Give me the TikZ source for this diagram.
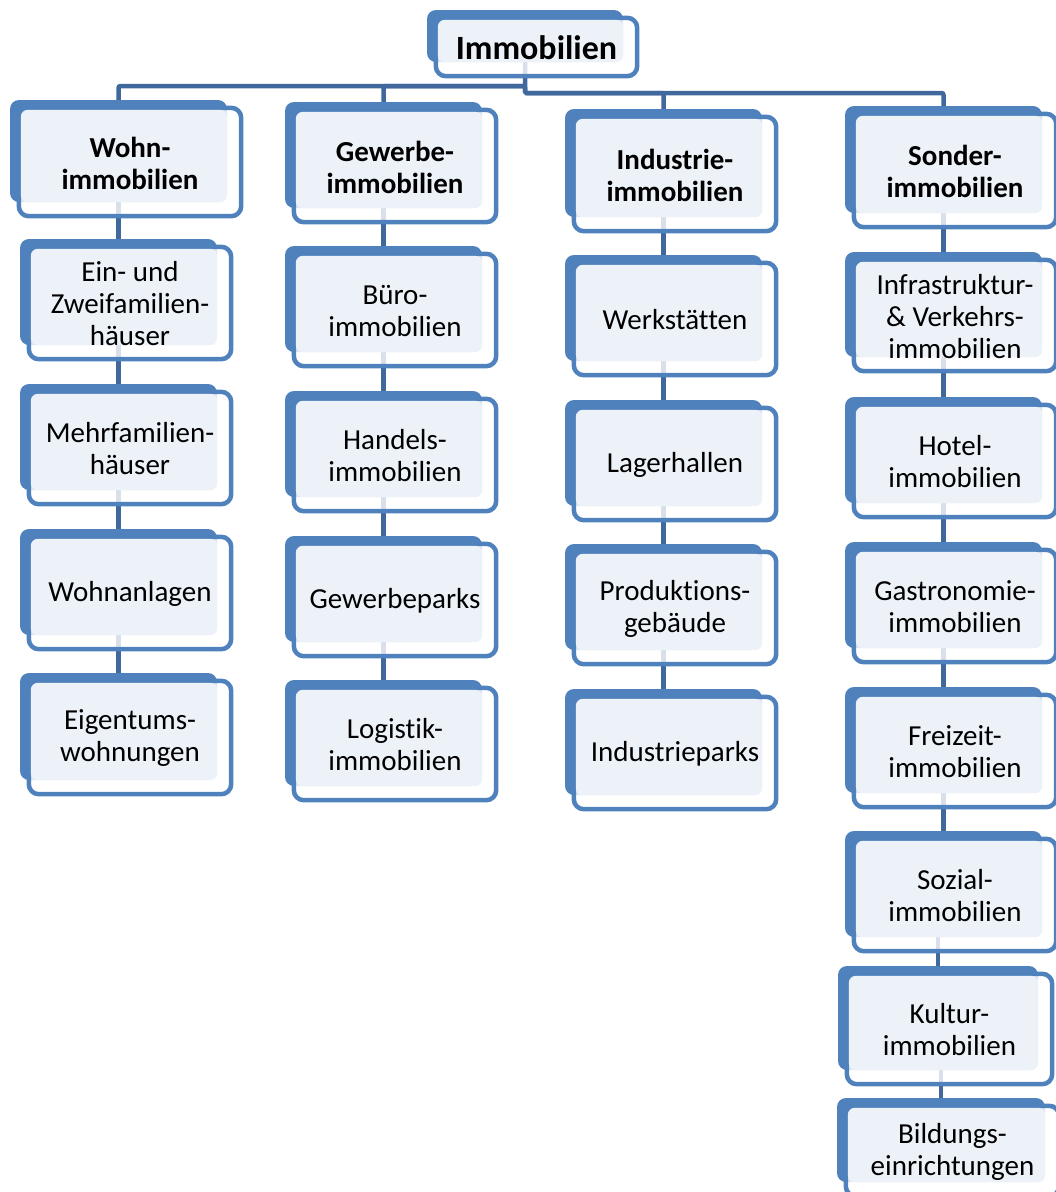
\documentclass[tikz,border=0pt]{standalone}
\usepackage{fontspec}
\setmainfont[Ligatures={NoCommon}]{Carlito}
\definecolor{accent}{HTML}{4F81BD}
\definecolor{conn}{HTML}{41689C}
\definecolor{lightfill}{HTML}{EDF2F9}
\tikzset{
  backbox/.style={rectangle, rounded corners=9pt, fill=accent, draw=none, inner sep=0pt},
  frontstyle/.style={draw=accent, line width=4.5pt, fill=white, fill opacity=0.8, rounded corners=10pt},
  lightstyle/.style={fill=lightfill, rounded corners=7pt},
  txt/.style={align=center, inner sep=0pt, font=\fontsize{29}{32}\selectfont},
  hdr/.style={align=center, inner sep=0pt, font=\fontsize{29}{32}\selectfont\bfseries},
  toptxt/.style={align=center, inner sep=0pt, font=\fontsize{34}{38}\selectfont\bfseries},
  link/.style={draw=conn, line width=4.5pt},
}
\newcommand\backnode[5]{%
  \node[backbox, minimum width={#4-#2}, minimum height={#5-#3}] (#1) at ({(#2+#4)/2},{(#3+#5)/2}) {};}
\newcommand\frontbox[3]{%
  \draw[frontstyle] ([shift={(9,8)}]#1.north west) rectangle ([shift={(14,14)}]#1.south east);
  \fill[lightstyle] ([shift={(11,10)}]#1.north west) rectangle (#1.south east);
  \node[#2] (#1-t) at ([shift={(11.5,12)}]#1.center) {#3};}
\begin{document}
\begin{tikzpicture}[x=1pt,y=-1pt]
\useasboundingbox (0,0) rectangle (1056,1192);
\clip (0,0) rectangle (1056,1192);
% back boxes
\backnode{immo}{427}{10}{623}{62}
\backnode{wohn}{10}{100}{227}{202}
\backnode{ein}{20}{239}{217}{345}
\backnode{mehr}{20}{384}{217}{490}
\backnode{anl}{20}{529}{217}{635}
\backnode{eig}{20}{673}{217}{780}
\backnode{gew}{285}{102}{482}{208}
\backnode{buero}{285}{246}{482}{352}
\backnode{handel}{285}{391}{482}{497}
\backnode{gpark}{285}{536}{482}{642}
\backnode{logi}{285}{680}{482}{786}
\backnode{ind}{565}{109}{762}{217}
\backnode{werk}{565}{255}{762}{361}
\backnode{lager}{565}{400}{762}{506}
\backnode{prod}{565}{544}{762}{650}
\backnode{ipark}{565}{689}{762}{795}
\backnode{son}{845}{106}{1042}{213}
\backnode{infra}{845}{252}{1042}{357}
\backnode{hotel}{845}{397}{1042}{503}
\backnode{gastro}{845}{542}{1042}{648}
\backnode{frei}{845}{687}{1042}{793}
\backnode{sozial}{845}{831}{1042}{937}
\backnode{kultur}{838}{966}{1038}{1070}
\backnode{bild}{837}{1098}{1045}{1182}
% connectors
\coordinate (busL) at (525,86);
\coordinate (busR) at (525,93);
\draw[link, rounded corners=2pt] (immo.south) -- (busR) -| (ind.north);
\draw[link, rounded corners=2pt] (busR) -| (son.north);
\draw[link, rounded corners=2pt] (busR) -- (busL) -| (wohn.north);
\draw[link, rounded corners=2pt] (busL) -| (gew.north);
\foreach \a/\b in {wohn/ein, ein/mehr, mehr/anl, anl/eig,
                   gew/buero, buero/handel, handel/gpark, gpark/logi,
                   ind/werk, werk/lager, lager/prod, prod/ipark,
                   son/infra, infra/hotel, hotel/gastro, gastro/frei, frei/sozial}
  \draw[link] (\a.south) -- (\b.north);
\draw[link] (kultur.north |- sozial.south) -- (kultur.north);
\draw[link] (bild.north |- kultur.south) -- (bild.north);
% front boxes and texts
\frontbox{immo}{toptxt}{Immobilien}
\frontbox{wohn}{hdr}{Wohn-\\immobilien}
\frontbox{gew}{hdr}{Gewerbe-\\immobilien}
\frontbox{ind}{hdr}{Industrie-\\immobilien}
\frontbox{son}{hdr}{Sonder-\\immobilien}
\frontbox{ein}{txt}{Ein- und\\Zweifamilien-\\häuser}
\frontbox{mehr}{txt}{Mehrfamilien-\\häuser}
\frontbox{anl}{txt}{Wohnanlagen}
\frontbox{eig}{txt}{Eigentums-\\wohnungen}
\frontbox{buero}{txt}{Büro-\\immobilien}
\frontbox{handel}{txt}{Handels-\\immobilien}
\frontbox{gpark}{txt}{Gewerbeparks}
\frontbox{logi}{txt}{Logistik-\\immobilien}
\frontbox{werk}{txt}{Werkstätten}
\frontbox{lager}{txt}{Lagerhallen}
\frontbox{prod}{txt}{Produktions-\\gebäude}
\frontbox{ipark}{txt}{Industrieparks}
\frontbox{infra}{txt}{Infrastruktur-\\\& Verkehrs-\\immobilien}
\frontbox{hotel}{txt}{Hotel-\\immobilien}
\frontbox{gastro}{txt}{Gastronomie-\\immobilien}
\frontbox{frei}{txt}{Freizeit-\\immobilien}
\frontbox{sozial}{txt}{Sozial-\\immobilien}
\frontbox{kultur}{txt}{Kultur-\\immobilien}
\frontbox{bild}{txt}{Bildungs-\\einrichtungen}
\end{tikzpicture}
\end{document}
